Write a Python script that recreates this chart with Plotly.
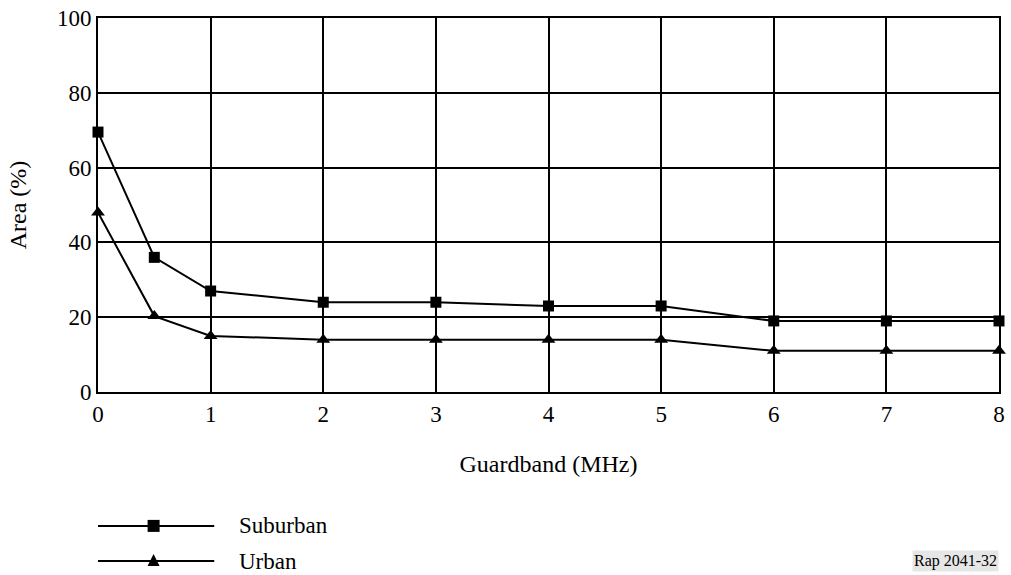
import plotly.graph_objects as go

guardband = [0, 0.5, 1, 2, 3, 4, 5, 6, 7, 8]
suburban = [69.5, 36, 27, 24, 24, 23, 23, 19, 19, 19]
urban = [48, 20.3, 15, 14, 14, 14, 14, 11, 11, 11]
x_ticks = [0, 1, 2, 3, 4, 5, 6, 7, 8]
y_ticks = [0, 20, 40, 60, 80, 100]
series_names = ["Suburban", "Urban"]

font = "Liberation Serif, Times New Roman, serif"

fig = go.Figure()
fig.add_trace(go.Scatter(x=guardband, y=suburban, name=series_names[0],
                         mode="lines+markers", cliponaxis=False,
                         line=dict(color="black", width=2),
                         marker=dict(symbol="square", size=11, color="black")))
fig.add_trace(go.Scatter(x=guardband, y=urban, name=series_names[1],
                         mode="lines+markers", cliponaxis=False,
                         line=dict(color="black", width=2),
                         marker=dict(symbol="triangle-up", size=12, color="black")))

axis_style = dict(showgrid=True, gridcolor="black", gridwidth=2,
                  showline=True, linecolor="black", linewidth=2, mirror=True,
                  zeroline=False, ticks="", tickfont=dict(size=23, color="black"))

fig.update_xaxes(range=[0, 8], tickvals=x_ticks, **axis_style,
                 title=dict(text="Guardband (MHz)", font=dict(size=24, color="black"),
                            standoff=30))
fig.update_yaxes(range=[0, 100], tickvals=y_ticks, **axis_style,
                 title=dict(text="Area (%)", font=dict(size=24, color="black"),
                            standoff=24))

# hand-drawn legend below the plot (long line sample with marker in the middle)
legend_y = [-0.358, -0.452]
for name, ly, sym in zip(series_names, legend_y, ["square", "triangle"]):
    fig.add_shape(type="line", xref="paper", yref="paper",
                  x0=0.0, x1=0.129, y0=ly, y1=ly,
                  line=dict(color="black", width=2))
    if sym == "square":
        fig.add_shape(type="rect", xref="paper", yref="paper",
                      xsizemode="pixel", ysizemode="pixel",
                      xanchor=0.0617, yanchor=ly,
                      x0=-6, x1=6, y0=-6, y1=6,
                      line=dict(width=0), fillcolor="black")
    else:
        fig.add_shape(type="path", xref="paper", yref="paper",
                      xsizemode="pixel", ysizemode="pixel",
                      xanchor=0.0617, yanchor=ly,
                      path="M -6,-5 L 6,-5 L 0,7 Z",
                      line=dict(width=0), fillcolor="black")
    fig.add_annotation(text=name, xref="paper", yref="paper",
                       x=0.1555, y=ly, xanchor="left", yanchor="middle",
                       showarrow=False, borderpad=0,
                       font=dict(size=23, color="black", family=font))

fig.add_annotation(text="Rap 2041-32", xref="paper", yref="paper",
                   x=1.0, y=-0.452, xanchor="right", yanchor="middle",
                   showarrow=False, bgcolor="#e6e6e6", borderpad=1,
                   font=dict(size=16, color="black", family=font))

fig.update_layout(
    width=1011, height=575,
    margin=dict(l=98, r=6, t=18, b=183),
    plot_bgcolor="white", paper_bgcolor="white",
    font=dict(family=font, color="black"),
    showlegend=False,
)

fig.write_html("out.html", config={"displayModeBar": False},
               post_script="document.body.style.margin='0';")
